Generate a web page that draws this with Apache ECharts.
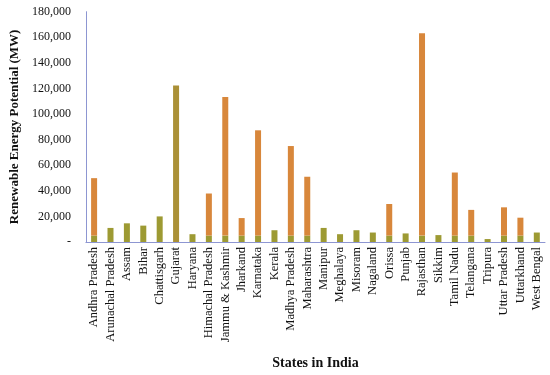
<!DOCTYPE html>
<html>
<head>
<meta charset="utf-8">
<script src="https://cdn.jsdelivr.net/npm/echarts@6/dist/echarts.min.js"></script>
<style>html,body{margin:0;padding:0;background:#fff}#c{width:550px;height:375px}</style>
</head>
<body>
<div id="c"></div>
<script>
var states = ["Andhra Pradesh","Arunachal Pradesh","Assam","Bihar","Chattisgarh","Gujarat","Haryana","Himachal Pradesh","Jammu & Kashmir","Jharkand","Karnataka","Kerala","Madhya Pradesh","Maharashtra","Manipur","Meghalaya","Misoram","Nagaland","Orissa","Punjab","Rajasthan","Sikkim","Tamil Nadu","Telangana","Tripura","Uttar Pradesh","Uttarkhand","West Bengal"];
// lower (olive) segment of each bar, MW
var baseSegment = [5000,11000,14600,12800,20000,122400,6100,5000,5000,5000,5000,9200,5000,5000,11000,6100,9200,7400,5000,6700,5000,5400,5000,5000,2300,5000,5000,7400];
// upper (orange) segment of each bar, MW
var topSegment = [44900,0,0,0,0,0,0,32900,108400,13700,82300,0,70000,46000,0,0,0,0,24700,0,158100,0,49300,20100,0,22100,14000,0];
var yTicks = [0,20000,40000,60000,80000,100000,120000,140000,160000,180000];

var olive = '#9d9a33', orange = '#d8873b', brownOlive = '#aa9036';
var chart = echarts.init(document.getElementById('c'));
var serif = '"Liberation Serif", "DejaVu Serif", serif';
chart.setOption({
  animation:false,
  grid:{left:77, right:5, top:11.7, bottom:129, containLabel:false},
  xAxis:{
    type:'category', data:states,
    axisLine:{lineStyle:{color:'#8d96d2', width:1}},
    axisTick:{show:false},
    axisLabel:{rotate:90, interval:0, margin:5, fontFamily:serif, fontSize:12.5, color:'#111'},
    name:'States in India', nameLocation:'middle', nameGap:114,
    nameTextStyle:{fontFamily:serif, fontWeight:'bold', fontSize:14, color:'#111'}
  },
  yAxis:{
    type:'value', min:yTicks[0], max:yTicks[yTicks.length-1], interval:20000,
    axisLine:{show:true, lineStyle:{color:'#8d96d2', width:1}},
    axisTick:{show:false},
    splitLine:{show:false},
    axisLabel:{margin:15, fontFamily:serif, fontSize:12, color:'#111',
      formatter:function(v){return v===0?'-':v.toLocaleString('en-US');}},
    name:'Renewable Energy Potential (MW)', nameLocation:'middle', nameGap:59,
    nameTextStyle:{fontFamily:serif, fontWeight:'bold', fontSize:13, color:'#111'}
  },
  series:[
    {type:'bar', stack:'s', data:baseSegment, barWidth:6,
      itemStyle:{color:function(p){return states[p.dataIndex]==='Gujarat'?brownOlive:olive;}}},
    {type:'bar', stack:'s', data:topSegment, barWidth:6, itemStyle:{color:orange}}
  ]
});
</script>
</body>
</html>
